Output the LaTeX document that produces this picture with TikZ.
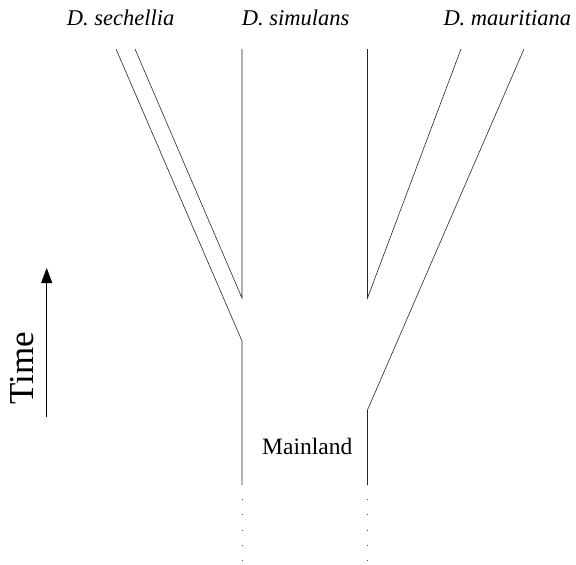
\documentclass[tikz,border=0pt]{standalone}
\usepackage{fontspec}
\setmainfont{Liberation Serif}
\usetikzlibrary{arrows.meta}
\begin{document}
\begin{tikzpicture}[x=1pt,y=-1pt,
  branch/.style={line width=0.6pt, black!85},
  dots/.style={line width=1pt, black!70, dash pattern=on 1pt off 14.3pt},
  species/.style={font=\fontsize{22.5}{24}\selectfont\itshape, anchor=base west, inner sep=0pt},
  ]
\useasboundingbox (0,0) rectangle (576,565);
% coordinates
\coordinate (so) at (116,49);
\coordinate (si) at (135,49);
\coordinate (ml) at (242,49);
\coordinate (mr) at (367.5,49);
\coordinate (mi) at (461,49);
\coordinate (mo) at (524,49);
\coordinate (jl) at (242,298);
\coordinate (jr) at (367.5,298);
\coordinate (kl) at (242,341);
\coordinate (kr) at (367.5,410);
\coordinate (bl) at (242,485);
\coordinate (br) at (367.5,485);
\coordinate (dl) at (242,499);
\coordinate (dle) at (242,562);
\coordinate (dr) at (367.5,499);
\coordinate (dre) at (367.5,562);
% branches
\draw[branch] (so) -- (kl) -- (bl);
\draw[branch] (si) -- (jl) -- (ml);
\draw[branch] (mr) -- (jr) -- (mi);
\draw[branch] (mo) -- (kr) -- (br);
\draw[dots] (dl) -- (dle);
\draw[dots] (dr) -- (dre);
% labels
\node[species] (lsech) at (66.7,25) {D. sechellia};
\node[species] (lsim) at (241.7,25) {D. simulans};
\node[species] (lmaur) at (443.3,25) {D. mauritiana};
\node[font=\fontsize{23.5}{25}\selectfont, anchor=base west, inner sep=0pt] (lmain) at (262,454.3) {Mainland};
% time axis
\coordinate (tb) at (46.7,417);
\coordinate (tt) at (46.7,268);
\draw[line width=0.8pt, -{Triangle[length=15pt,width=11pt]}] (tb) -- (tt);
\node[font=\fontsize{35}{37}\selectfont, rotate=90, anchor=base west, inner sep=0pt] (ltime) at (33.3,405) {Time};
\end{tikzpicture}
\end{document}
